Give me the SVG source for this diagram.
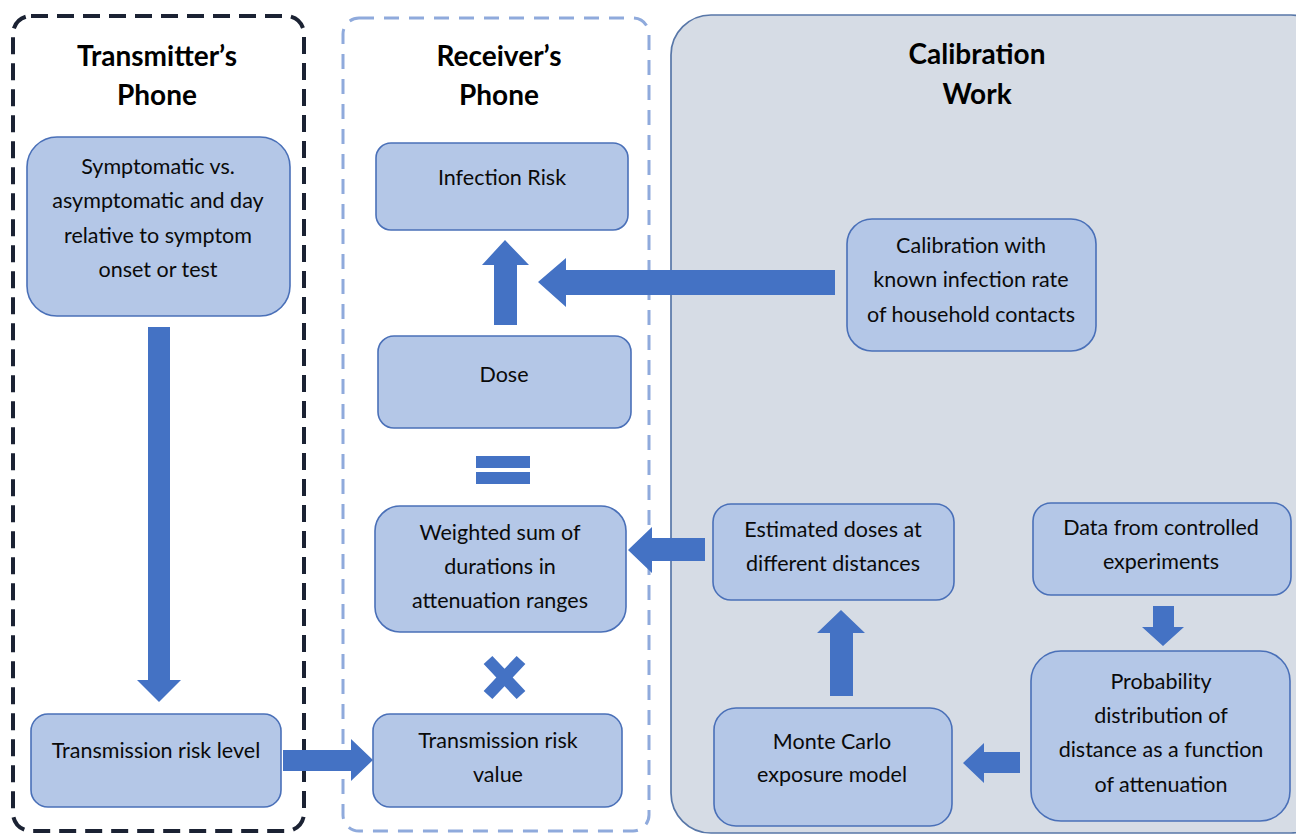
<svg xmlns="http://www.w3.org/2000/svg" width="1296" height="834" viewBox="0 0 1296 834">
<style>
.node rect{fill:#B4C7E7;stroke:#4A70B8;stroke-width:1.6}
.t{font-family:Lato,"Liberation Sans",sans-serif;font-size:21.5px;fill:#0a0a0a;text-anchor:middle}
.h{font-family:Lato,"Liberation Sans",sans-serif;font-size:28px;font-weight:bold;fill:#000;text-anchor:middle}
.arr{fill:#4472C4}
</style>
<rect width="1296" height="834" fill="#fff"/>
<g id="calibration-work">
<rect x="671" y="15" width="660" height="818" rx="40" fill="#D6DCE5" stroke="#5877A8" stroke-width="1.7"/>
<text class="h" x="977" y="64">Calibration</text>
<text class="h" x="977" y="104">Work</text>
</g>
<g id="transmitters-phone">
<rect x="13" y="16" width="291" height="815" rx="18" fill="none" stroke="#1B2233" stroke-width="4" stroke-dasharray="17 9"/>
<text class="h" x="157" y="66">Transmitter’s</text>
<text class="h" x="157" y="105">Phone</text>
</g>
<g id="receivers-phone">
<rect x="343" y="18" width="306" height="813" rx="16" fill="none" stroke="#8FAADC" stroke-width="3" stroke-dasharray="15 10"/>
<text class="h" x="499" y="66">Receiver’s</text>
<text class="h" x="499" y="105">Phone</text>
</g>
<g id="connectors">
<polygon class="arr" points="148,327 170,327 170,680 181,680 159,702 137,680 148,680"/>
<polygon class="arr" points="283,750 351,750 351,739 373,760 351,781 351,771 283,771"/>
<polygon class="arr" points="494,325 494,265 482,265 505,240 529,265 517,265 517,325"/>
<polygon class="arr" points="835,270 566,270 566,258 538,282 566,307 566,295 835,295"/>
<polygon class="arr" points="705,538 652,538 652,527 628,550 652,573 652,561 705,561"/>
<polygon class="arr" points="830,696 830,633 817,633 841,610 865,633 853,633 853,696"/>
<polygon class="arr" points="1153,606 1174,606 1174,627 1184,627 1163,646 1142,627 1153,627"/>
<polygon class="arr" points="1020,752 984,752 984,743 963,763 984,783 984,773 1020,773"/>
<rect class="arr" x="476" y="456" width="54" height="12"/>
<rect class="arr" x="476" y="472" width="54" height="12"/>
<path d="M488,660 L521,695 M521,660 L488,695" stroke="#4472C4" stroke-width="12" fill="none"/>
</g>
<g id="symptomatic" class="node">
<rect x="27" y="137" width="263" height="179" rx="30"/>
<text class="t" x="158" y="174">Symptomatic vs.</text>
<text class="t" x="158" y="208">asymptomatic and day</text>
<text class="t" x="158" y="243">relative to symptom</text>
<text class="t" x="158" y="277">onset or test</text>
</g>
<g id="transmission-risk-level" class="node">
<rect x="31" y="714" width="250" height="93" rx="17"/>
<text class="t" x="156" y="758">Transmission risk level</text>
</g>
<g id="infection-risk" class="node">
<rect x="376" y="143" width="252" height="87" rx="15"/>
<text class="t" x="502" y="185">Infection Risk</text>
</g>
<g id="dose" class="node">
<rect x="378" y="336" width="253" height="92" rx="16"/>
<text class="t" x="504" y="382">Dose</text>
</g>
<g id="weighted-sum" class="node">
<rect x="375" y="506" width="251" height="126" rx="25"/>
<text class="t" x="500" y="540">Weighted sum of</text>
<text class="t" x="500" y="574">durations in</text>
<text class="t" x="500" y="608">attenuation ranges</text>
</g>
<g id="transmission-risk-value" class="node">
<rect x="373" y="714" width="249" height="93" rx="17"/>
<text class="t" x="498" y="748">Transmission risk</text>
<text class="t" x="498" y="782">value</text>
</g>
<g id="calibration-household" class="node">
<rect x="847" y="219" width="249" height="132" rx="25"/>
<text class="t" x="971" y="253">Calibration with</text>
<text class="t" x="971" y="287">known infection rate</text>
<text class="t" x="971" y="322">of household contacts</text>
</g>
<g id="estimated-doses" class="node">
<rect x="713" y="504" width="241" height="96" rx="18"/>
<text class="t" x="833" y="537">Estimated doses at</text>
<text class="t" x="833" y="571">different distances</text>
</g>
<g id="controlled-experiments" class="node">
<rect x="1033" y="503" width="258" height="92" rx="18"/>
<text class="t" x="1161" y="535">Data from controlled</text>
<text class="t" x="1161" y="569">experiments</text>
</g>
<g id="probability-distribution" class="node">
<rect x="1031" y="651" width="259" height="170" rx="30"/>
<text class="t" x="1161" y="689">Probability</text>
<text class="t" x="1161" y="723">distribution of</text>
<text class="t" x="1161" y="757">distance as a function</text>
<text class="t" x="1161" y="792">of attenuation</text>
</g>
<g id="monte-carlo" class="node">
<rect x="714" y="708" width="238" height="118" rx="22"/>
<text class="t" x="832" y="749">Monte Carlo</text>
<text class="t" x="832" y="782">exposure model</text>
</g>
</svg>
